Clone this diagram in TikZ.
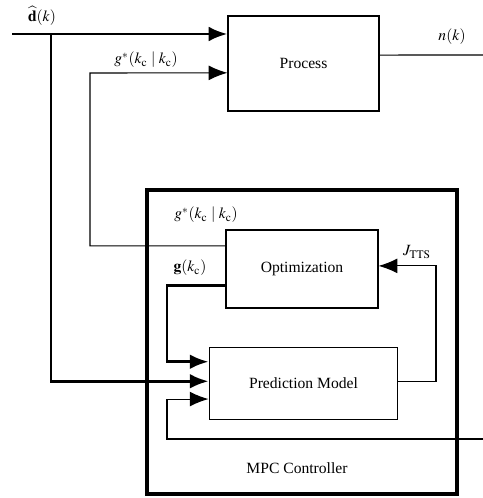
\documentclass[tikz,border=0pt]{standalone}
\usepackage{mathptmx}
\usepackage{fontspec}
\setmainfont{Liberation Serif}
\usetikzlibrary{arrows.meta, positioning, calc}

\begin{document}
\begin{tikzpicture}[x=0.0225cm, y=-0.0225cm,
      blk/.style={draw, line width=0.7pt, minimum width=#1, font=\fontsize{10}{12}\selectfont},
      frame/.style={draw, line width=2pt, minimum width=6.975cm, minimum height=6.84cm},
      thk/.style={line width=1.9pt, -{Latex[length=12pt, width=9.5pt]}},
      thn/.style={line width=0.7pt, -{Latex[length=12pt, width=9.5pt]}},
      lab/.style={font=\fontsize{10}{12}\selectfont, inner sep=1pt}
    ]
    \useasboundingbox (0,0) rectangle (483,498);
    % blocks
    \node[blk=3.40cm, minimum height=2.14cm]  (proc) at (303.5,63.5) {Process};
    \node[frame] (mpc) at (302,342) {};
    \node[blk=3.42cm, minimum height=1.755cm] (opt)  at (302,269)   {Optimization};
    \node[blk=4.25cm, minimum height=1.64cm]  (pred) at (303.5,383.5) {Prediction Model};
    \node[lab] (mpclab) at (297,468) {MPC Controller};
    % free ends and corners
    \coordinate (din)    at (12,34);
    \coordinate (dsplit) at (51,34);
    \coordinate (gx)     at (90,73);
    \coordinate (gk)     at (167,320);
    \coordinate (jx)     at (436,320);
    \coordinate (fbin)   at (483,439);
    \coordinate (fbx)    at (167,439);
    \coordinate (nout)   at (483,55);
    % signals
    \draw[thk] (din) -- (din -| proc.west);
    \draw[thk] (dsplit) |- ([yshift=0.05cm]pred.west);
    \draw[thn] ([yshift=0.52cm]opt.west) -| (gx) -- ([yshift=-0.21cm]proc.west);
    \draw[thk] ([yshift=-0.38cm]opt.west) -| (gk) |- ([yshift=0.49cm]pred.west);
    \draw[thn] ([yshift=0.05cm]pred.east) -| (jx) |- ([yshift=0.07cm]opt.east);
    \draw[thn] (fbin) -- (fbx) |- ([yshift=-0.35cm]pred.west);
    \draw[line width=0.7pt] ([yshift=0.19cm]proc.east) -- (nout);
    % labels
    \node[lab] (dlab)  at (42,16)   {$\widehat{\mathbf{d}}(k)$};
    \node[lab] (glab1) at (146,60)  {$g^{*}(k_{\mathrm{c}} \mid k_{\mathrm{c}})$};
    \node[lab] (glab2) at (206,215) {$g^{*}(k_{\mathrm{c}} \mid k_{\mathrm{c}})$};
    \node[lab] (gklab) at (190,268) {$\mathbf{g}(k_{\mathrm{c}})$};
    \node[lab] (jlab)  at (417,252) {$J_{\mathrm{TTS}}$};
    \node[lab] (nlab)  at (452,37)  {$n(k)$};
  \end{tikzpicture}
\end{document}
